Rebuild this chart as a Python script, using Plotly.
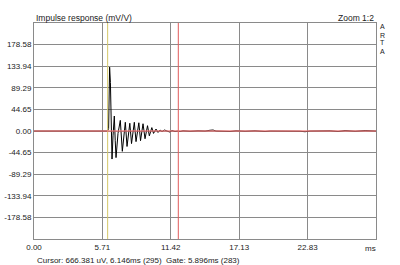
import plotly.graph_objects as go

# ---- data ----
t_ms = [0.0, 6.135, 6.227, 6.310, 6.377, 6.427, 6.511, 6.594, 6.703, 6.778, 6.845,
        7.011, 7.203, 7.370, 7.621, 7.763, 7.996, 8.138, 8.372, 8.514, 8.748, 8.890,
        9.098, 9.265, 9.474, 9.624, 9.833, 9.975, 10.183, 10.350, 10.517, 10.684,
        10.893, 11.101, 11.310, 11.519, 11.769, 12.020,
        12.187, 12.437, 13.021, 13.689, 14.273, 14.691, 14.941, 15.192, 15.692,
        16.360, 16.861, 17.612, 18.447, 19.282, 19.699, 20.951, 22.203, 22.620,
        23.038, 24.707, 25.375, 25.959, 26.794, 27.629, 28.547]
amp = [0.0, 0.0, 5.0, 132.0, 100.0, -10.0, -58.0, -10.0, 31.0, -20.0, -55.0,
       -5.0, 22.0, -42.0, 18.0, -32.0, 16.0, -26.0, 18.0, -22.0, 17.0, -20.0,
       15.0, -16.0, 11.0, -10.0, 7.0, -5.0, 4.0, -3.0, 2.0, -1.0,
       2.0, 0.0, -2.0, 1.0, -1.0, 0.0,
       -1.0, 0.5, -0.5, 0.5, 0.0, 1.5, 2.0, 0.0, -1.0,
       -1.0, 0.5, -0.5, 0.5, -1.0, 0.0, 0.5, -0.5, -1.5,
       0.0, 0.5, -1.0, 1.0, -0.5, 1.0, 0.0]

x_tickvals = [0.0, 5.708, 11.416, 17.124, 22.832]
x_ticktext = ["0.00", "5.71", "11.42", "17.13", "22.83"]
y_tickvals = [178.58, 133.935, 89.29, 44.645, 0.0, -44.645, -89.29, -133.935, -178.58]
y_ticktext = ["178.58", "133.94", "89.29", "44.65", "0.00", "-44.65", "-89.29", "-133.94", "-178.58"]

cursor_ms = 6.146
gate_end_ms = 12.042
x_max = 28.54
y_max = 223.225

FONT = "Liberation Sans, Arial, sans-serif"
GRID = "#8a8a8a"
TXT = "#222222"

fig = go.Figure()
fig.add_trace(go.Scatter(x=t_ms, y=amp, mode="lines",
                         line=dict(color="black", width=1), hoverinfo="skip"))

fig.update_layout(
    width=400, height=265,
    margin=dict(l=34, r=24, t=23, b=26, autoexpand=False),
    paper_bgcolor="white", plot_bgcolor="white",
    showlegend=False,
    font=dict(family=FONT, size=8, color=TXT),
    xaxis=dict(range=[0, x_max], tickvals=x_tickvals, ticktext=x_ticktext,
               showgrid=True, gridcolor=GRID, gridwidth=1, zeroline=False,
               showline=True, linecolor=GRID, linewidth=1, mirror=True,
               ticks="", automargin=False, tickfont=dict(size=8, color=TXT)),
    yaxis=dict(range=[-y_max, y_max], tickvals=y_tickvals, ticktext=y_ticktext,
               showgrid=True, gridcolor=GRID, gridwidth=1, zeroline=False,
               showline=True, linecolor=GRID, linewidth=1, mirror=True,
               ticks="", automargin=False, tickfont=dict(size=8, color=TXT)),
)

# cursor / gate / zero lines
fig.add_shape(type="line", xref="x", yref="paper", x0=cursor_ms, x1=cursor_ms, y0=0, y1=1,
              line=dict(color="#d4c868", width=1), layer="above")
fig.add_shape(type="line", xref="x", yref="paper", x0=gate_end_ms, x1=gate_end_ms, y0=0, y1=1,
              line=dict(color="#e05a5a", width=1), layer="above")
fig.add_shape(type="line", xref="paper", yref="y", x0=0, x1=1, y0=0, y1=0,
              line=dict(color="rgba(240,120,120,0.85)", width=1.3), layer="above")

ann = [
    dict(text="Impulse response (mV/V)", x=34, y=18, xanchor="left", size=8.5),
    dict(text="Zoom 1:2", x=376, y=18, xanchor="right", size=8.5),
    dict(text="ms", x=370, y=248, xanchor="center", size=8),
    dict(text="Cursor: 666.381 uV, 6.146ms (295)  Gate: 5.896ms (283)", x=35, y=260,
         xanchor="left", size=8),
    dict(text="A", x=382, y=27, xanchor="center", size=7),
    dict(text="R", x=382, y=35, xanchor="center", size=7),
    dict(text="T", x=382, y=43, xanchor="center", size=7),
    dict(text="A", x=382, y=51, xanchor="center", size=7),
]
for a in ann:
    fig.add_annotation(text=a["text"], xref="paper", yref="paper",
                       x=(a["x"] - 34) / 342, y=(239 - a["y"]) / 216,
                       xanchor=a["xanchor"], yanchor="middle", showarrow=False,
                       font=dict(family=FONT, size=a["size"], color=TXT))

fig.write_html("out.html")
